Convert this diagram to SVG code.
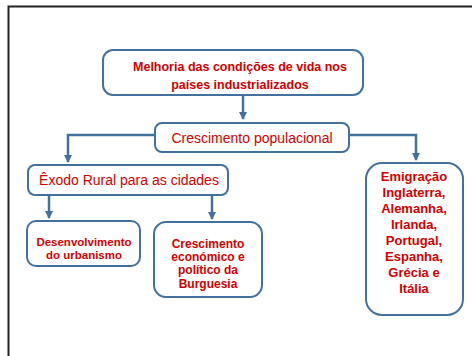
<svg xmlns="http://www.w3.org/2000/svg" width="472" height="356" viewBox="0 0 472 356">
<defs>
<marker id="ah" markerUnits="userSpaceOnUse" markerWidth="9" markerHeight="8" refX="7" refY="4" orient="auto" viewBox="0 0 9 8">
<path d="M0,0 L8,4 L0,8 Z" fill="#41719C"/>
</marker>
</defs>
<style>
.box{fill:#fff;stroke:#41719C;stroke-width:2}
.con{fill:none;stroke:#41719C;stroke-width:2.5}
.t{font-family:"Liberation Sans",Arial,sans-serif;fill:#D00000;text-anchor:middle}
.b{font-weight:bold}
</style>
<rect width="472" height="356" fill="#fff"/>
<path d="M8.5,357 V6.5 H473" fill="none" stroke="#222" stroke-width="2"/>
<g id="connectors">
<path class="con" d="M243,95 V119" marker-end="url(#ah)"/>
<path class="con" d="M155,135 H68 V162" marker-end="url(#ah)"/>
<path class="con" d="M349,135 H416 V160" marker-end="url(#ah)"/>
<path class="con" d="M49,195 V218" marker-end="url(#ah)"/>
<path class="con" d="M212,195 V219" marker-end="url(#ah)"/>
</g>
<g id="n-melhoria">
<rect class="box" x="103" y="50" width="260" height="45" rx="10"/>
<text class="t b" font-size="12.5" x="240" y="71">Melhoria das condições  de vida nos</text>
<text class="t b" font-size="12.5" x="240" y="89">países industrializados</text>
</g>
<g id="n-crescimento">
<rect class="box" x="155" y="123" width="194" height="29" rx="7"/>
<text class="t" font-size="14" x="252" y="143">Crescimento populacional</text>
</g>
<g id="n-exodo">
<rect class="box" x="28" y="165" width="200" height="30" rx="7"/>
<text class="t" font-size="14" x="129" y="185">Êxodo Rural para as cidades</text>
</g>
<g id="n-desenvolvimento">
<rect class="box" x="27" y="221" width="113" height="45" rx="9"/>
<text class="t b" font-size="11.5" x="84" y="246">Desenvolvimento</text>
<text class="t b" font-size="11.5" x="84" y="259">do urbanismo</text>
</g>
<g id="n-burguesia">
<rect class="box" x="154" y="222" width="108" height="75" rx="12"/>
<text class="t b" font-size="12" x="208" y="248">Crescimento</text>
<text class="t b" font-size="12" x="208" y="261">económico e</text>
<text class="t b" font-size="12" x="208" y="274">político da</text>
<text class="t b" font-size="12" x="208" y="288">Burguesia</text>
</g>
<g id="n-emigracao">
<rect class="box" x="366" y="163" width="97" height="152" rx="16"/>
<text class="t b" font-size="13" x="414" y="181">Emigração</text>
<text class="t b" font-size="13" x="414" y="197">Inglaterra,</text>
<text class="t b" font-size="13" x="414" y="213">Alemanha,</text>
<text class="t b" font-size="13" x="414" y="229">Irlanda,</text>
<text class="t b" font-size="13" x="414" y="245">Portugal,</text>
<text class="t b" font-size="13" x="414" y="261">Espanha,</text>
<text class="t b" font-size="13" x="414" y="277">Grécia e</text>
<text class="t b" font-size="13" x="414" y="293">Itália</text>
</g>
</svg>
